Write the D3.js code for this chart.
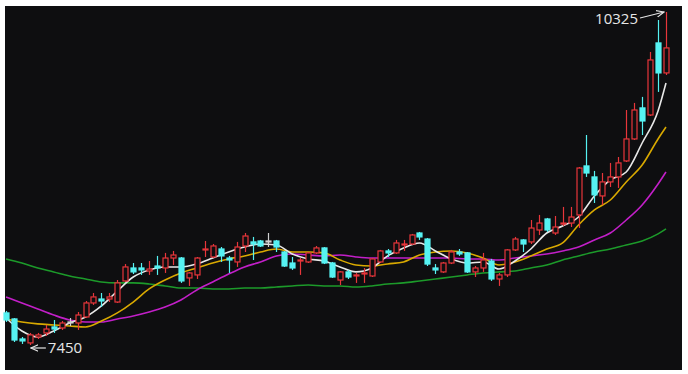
<!DOCTYPE html>
<html>
<head>
<meta charset="utf-8">
<script src="https://cdn.jsdelivr.net/npm/d3@7"></script>
<style>
  body { margin: 0; background: #ffffff; }
  svg { display: block; }
</style>
</head>
<body>
<div id="chart"></div>
<script>
// candle data, one row per day: open, high, low, close
var opens  = [7727,7675,7502,7468,7519,7554,7606,7597,7649,7640,7692,7813,7847,7847,7821,8003,8115,8115,8089,8132,
              8115,8201,8201,8029,8055,8271,8210,8279,8201,8167,8305,8340,8348,8348,8348,8253,8158,8175,8167,8245,
              8288,8158,8011,8081,8046,8063,8046,8167,8262,8245,8314,8322,8417,8365,8115,8081,8158,8253,8245,8081,
              8115,8175,8020,8055,8271,8357,8340,8443,8538,8417,8495,8503,8573,8996,8901,8737,8858,8901,9039,9229,
              9497,9436,10058,9799];
var highs  = [7744,7683,7519,7554,7554,7623,7666,7657,7683,7735,7830,7899,7899,7899,8011,8149,8158,8158,8175,8219,
              8245,8262,8210,8081,8210,8348,8322,8296,8219,8340,8417,8383,8357,8417,8357,8262,8210,8201,8253,8305,
              8296,8167,8089,8098,8072,8115,8201,8271,8279,8357,8357,8409,8426,8374,8149,8167,8271,8279,8253,8132,
              8245,8193,8072,8279,8383,8365,8529,8573,8547,8564,8642,8642,8987,9263,8953,8935,9022,9073,9479,9540,
              9592,9980,10256,10325];
var lows   = [7649,7476,7459,7450,7502,7528,7554,7580,7614,7580,7683,7796,7778,7821,7813,7994,8063,8055,8055,8055,
              8072,8141,7986,7960,8020,8210,8201,8167,8072,8124,8253,8184,8296,8296,8253,8124,8098,8055,8158,8236,
              8149,8029,7968,8020,7986,7986,8037,8158,8210,8236,8262,8314,8357,8132,8063,8072,8149,8219,8072,8037,
              8081,8003,7960,8037,8262,8253,8322,8400,8426,8400,8478,8469,8460,8901,8676,8659,8814,8806,9030,9220,
              9263,9427,9635,9781];
var closes = [7666,7493,7485,7537,7537,7588,7588,7640,7649,7709,7813,7865,7830,7865,7986,8124,8081,8098,8106,8115,
              8201,8227,8003,8072,8201,8279,8305,8219,8184,8296,8391,8322,8305,8348,8296,8132,8115,8184,8245,8288,
              8158,8037,8081,8037,8055,8072,8193,8262,8245,8331,8322,8400,8383,8149,8098,8158,8253,8236,8081,8115,
              8184,8020,8055,8271,8365,8322,8460,8503,8443,8469,8503,8555,8978,8935,8746,8858,8901,9022,9229,9479,
              9384,9911,9799,10015];

// moving averages read at every other day
var maDays = [0,2,4,6,8,10,12,14,16,18,20,22,24,26,28,30,32,34,36,38,40,42,44,46,48,50,
              52,54,56,58,60,62,64,66,68,70,72,74,76,78,80,82,83];
var ma5  = [7683,7571,7519,7571,7640,7692,7787,7916,8037,8098,8124,8124,8150,8201,8253,8296,8322,8314,8236,8193,8175,8124,8081,8115,8219,8288,
            8331,8262,8193,8158,8167,8106,8175,8279,8417,8478,8555,8737,8875,8944,9194,9471,9712];
var ma10 = [7675,7649,7632,7623,7614,7606,7657,7727,7821,7934,8011,8072,8115,8158,8193,8219,8253,8279,8253,8253,8245,8184,8141,8132,8150,8167,
            8227,8253,8262,8245,8201,8141,8167,8219,8279,8331,8486,8616,8702,8858,9004,9229,9332];
var ma20 = [7865,7813,7761,7709,7666,7649,7649,7675,7701,7735,7778,7839,7925,7994,8063,8124,8167,8219,8236,8227,8219,8227,8210,8201,8201,8201,
            8201,8201,8201,8193,8193,8184,8201,8219,8236,8262,8296,8357,8417,8529,8659,8840,8944];
var ma60 = [8193,8158,8115,8081,8046,8020,7994,7986,7986,7977,7960,7942,7942,7934,7934,7942,7942,7951,7960,7968,7960,7960,7951,7960,7977,7986,
            8003,8020,8037,8055,8072,8081,8089,8115,8141,8184,8219,8253,8279,8314,8348,8409,8452];

var maLines = [ma60, ma20, ma10, ma5];
var maLineColors = ["#1c9a2a", "#c21fc8", "#d9a900", "#e8e8e8"];

var upColor = "#e8363b";
var downColor = "#56f2f2";
var bg = "#0e0e10";

var width = 688, height = 374;
var svg = d3.select("#chart").append("svg")
    .attr("width", width)
    .attr("height", height);

svg.append("rect")
    .attr("x", 5).attr("y", 6)
    .attr("width", 677).attr("height", 364)
    .attr("fill", bg);

var x = d3.scaleLinear().domain([0, 83]).range([6, 666]);
var y = d3.scaleLinear().domain([7450, 10325]).range([345, 12]);

var plot = svg.append("g");

// moving average lines
var line = d3.line()
    .x(function(d) { return x(d[0]); })
    .y(function(d) { return y(d[1]); })
    .curve(d3.curveMonotoneX);

maLines.forEach(function(vals, k) {
    var pts = maDays.map(function(day, i) { return [day, vals[i]]; });
    plot.append("path")
        .attr("d", line(pts))
        .attr("fill", "none")
        .attr("stroke", maLineColors[k])
        .attr("stroke-width", 1.6);
});

// candles
var candles = opens.map(function(o, i) {
    return { i: i, o: o, h: highs[i], l: lows[i], c: closes[i] };
});

function candleColor(d) {
    if (d.c > d.o) return upColor;
    if (d.c < d.o) return downColor;
    return "#d0d0d0";
}
function cx(d) { return Math.round(x(d.i)) + 0.5; }

var g = plot.selectAll("g.candle")
    .data(candles)
    .enter().append("g")
    .attr("class", "candle");

// wicks, split so the hollow red bodies stay empty
g.append("line")
    .attr("x1", cx).attr("x2", cx)
    .attr("y1", function(d) { return y(d.h); })
    .attr("y2", function(d) { return y(Math.max(d.o, d.c)); })
    .attr("stroke", candleColor)
    .attr("stroke-width", 1.2);
g.append("line")
    .attr("x1", cx).attr("x2", cx)
    .attr("y1", function(d) { return y(Math.min(d.o, d.c)); })
    .attr("y2", function(d) { return y(d.l); })
    .attr("stroke", candleColor)
    .attr("stroke-width", 1.2);

g.append("rect")
    .attr("x", function(d) { return cx(d) - 2.5; })
    .attr("y", function(d) { return y(Math.max(d.o, d.c)); })
    .attr("width", 5)
    .attr("height", function(d) { return Math.max(1, y(Math.min(d.o, d.c)) - y(Math.max(d.o, d.c))); })
    .attr("fill", function(d) { return d.c < d.o ? downColor : (d.c > d.o ? bg : "#d0d0d0"); })
    .attr("stroke", function(d) { return d.c < d.o ? downColor : candleColor(d); })
    .attr("stroke-width", 1.2);

// high / low labels
var hiIdx = d3.maxIndex(highs), loIdx = d3.minIndex(lows);
var labelFont = "'Open Sans', 'Noto Sans', sans-serif";

var defs = svg.append("defs");
defs.append("marker")
    .attr("id", "arrow")
    .attr("viewBox", "0 0 10 10")
    .attr("refX", 9).attr("refY", 5)
    .attr("markerWidth", 7).attr("markerHeight", 7)
    .attr("orient", "auto")
    .append("path")
    .attr("d", "M0,1 L9,5 L0,9")
    .attr("fill", "none")
    .attr("stroke", "#e6e6e6")
    .attr("stroke-width", 1.4);

var hx = x(hiIdx), hy = y(highs[hiIdx]);
svg.append("line")
    .attr("x1", hx - 26).attr("y1", hy + 6)
    .attr("x2", hx - 2).attr("y2", hy)
    .attr("stroke", "#e6e6e6").attr("stroke-width", 1.2)
    .attr("marker-end", "url(#arrow)");
svg.append("text")
    .attr("x", hx - 28).attr("y", hy + 12)
    .attr("text-anchor", "end")
    .attr("fill", "#e6e6e6")
    .style("font-family", labelFont)
    .style("font-size", "15px")
    .text(highs[hiIdx]);

var lx = x(loIdx), ly = y(lows[loIdx]);
svg.append("line")
    .attr("x1", lx + 16).attr("y1", ly + 3)
    .attr("x2", lx + 1).attr("y2", ly + 3)
    .attr("stroke", "#e6e6e6").attr("stroke-width", 1.2)
    .attr("marker-end", "url(#arrow)");
svg.append("text")
    .attr("x", lx + 18).attr("y", ly + 8)
    .attr("fill", "#e6e6e6")
    .style("font-family", labelFont)
    .style("font-size", "15px")
    .text(lows[loIdx]);
</script>
</body>
</html>
